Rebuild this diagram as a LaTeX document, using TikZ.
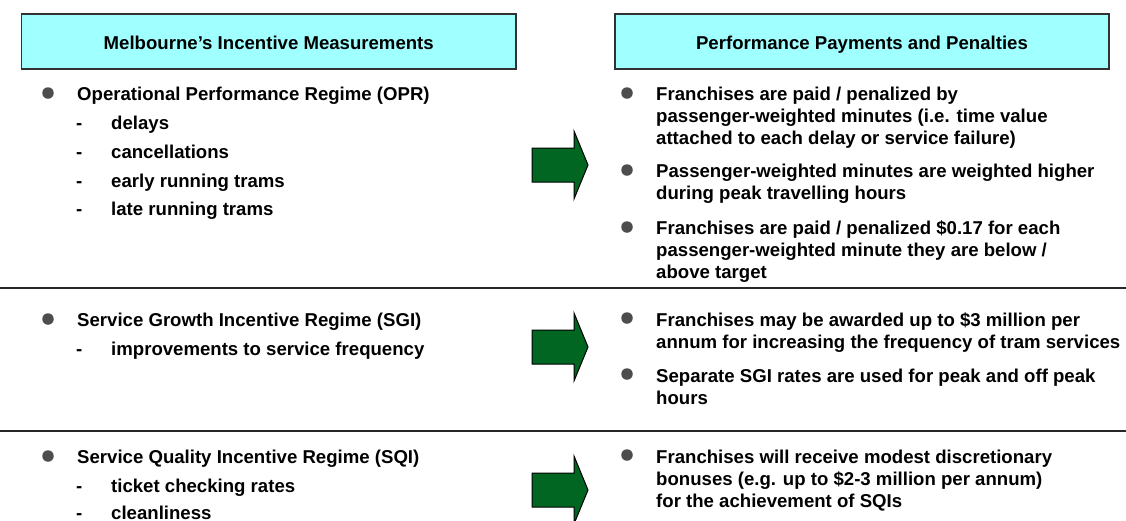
\documentclass[tikz,border=0pt]{standalone}
\usepackage{fontspec}
\setmainfont{Liberation Sans}
\definecolor{hdrfill}{RGB}{160,255,255}
\definecolor{hdrline}{RGB}{50,50,50}
\definecolor{arrgreen}{RGB}{0,102,34}
\definecolor{bulletgray}{RGB}{77,77,77}
\begin{document}
\begin{tikzpicture}[x=1pt,y=-1pt,
  txt/.style={anchor=base west,inner sep=0pt,font=\fontsize{18.6}{22}\selectfont\bfseries},
  hdr/.style={draw=hdrline,line width=1.5pt,fill=hdrfill},
  hdrtxt/.style={anchor=base,inner sep=0pt,font=\fontsize{18.6}{22}\selectfont\bfseries},
  dot/.style={circle,fill=bulletgray,inner sep=0pt,minimum size=11.5pt},
  sep/.style={line width=2pt,draw=black!85},
  bigarrow/.style={fill=arrgreen,draw=black,line width=1pt,line join=miter}]
\useasboundingbox (0,0) rectangle (1126,520);
% headers
\draw[hdr] (21.5,14) rectangle (516,69);
\node[hdrtxt] (h1) at (268.75,49.5) {Melbourne’s Incentive Measurements};
\draw[hdr] (615,14) rectangle (1109,69);
\node[hdrtxt] (h2) at (862,49.5) {Performance Payments and Penalties};
% separators
\coordinate (s1a) at (0,288); \coordinate (s1b) at (1126,288);
\coordinate (s2a) at (0,431); \coordinate (s2b) at (1126,431);
\draw[sep] (s1a) -- (s1b);
\draw[sep] (s2a) -- (s2b);
% arrows
\foreach \c in {165,347,490}{
  \draw[bigarrow] (532,\c-17) -- (574,\c-17) -- (574,\c-34) -- (588,\c) -- (574,\c+34) -- (574,\c+17) -- (532,\c+17) -- cycle;
}
% ---- left column
\node[dot] (lb1) at (48,93) {};
\node[txt] (l1) at (77,100) {Operational Performance Regime (OPR)};
\node[txt] (l1d1) at (76,129) {-}; \node[txt] (l1a) at (111,129) {delays};
\node[txt] (l1d2) at (76,158) {-}; \node[txt] (l1b) at (111,158) {cancellations};
\node[txt] (l1d3) at (76,187) {-}; \node[txt] (l1c) at (111,187) {early running trams};
\node[txt] (l1d4) at (76,215) {-}; \node[txt] (l1e) at (111,215) {late running trams};
\node[dot] (lb2) at (48,319) {};
\node[txt] (l2) at (77,326) {Service Growth Incentive Regime (SGI)};
\node[txt] (l2d1) at (76,355) {-}; \node[txt] (l2a) at (111,355) {improvements to service frequency};
\node[dot] (lb3) at (48,456) {};
\node[txt] (l3) at (77,463) {Service Quality Incentive Regime (SQI)};
\node[txt] (l3d1) at (76,492) {-}; \node[txt] (l3a) at (111,492) {ticket checking rates};
\node[txt] (l3d2) at (76,519) {-}; \node[txt] (l3b) at (111,519) {cleanliness};
% ---- right column
\node[dot] (rb1) at (627,93) {};
\node[txt] (r1a) at (656,100) {Franchises are paid / penalized by};
\node[txt] (r1b) at (656,122) {passenger-weighted minutes (i.e. time value};
\node[txt] (r1c) at (656,144) {attached to each delay or service failure)};
\node[dot] (rb2) at (627,170) {};
\node[txt] (r2a) at (656,177) {Passenger-weighted minutes are weighted higher};
\node[txt] (r2b) at (656,199) {during peak travelling hours};
\node[dot] (rb3) at (627,227) {};
\node[txt] (r3a) at (656,234) {Franchises are paid / penalized \$0.17 for each};
\node[txt] (r3b) at (656,256) {passenger-weighted minute they are below /};
\node[txt] (r3c) at (656,278) {above target};
\node[dot] (rb4) at (627,318) {};
\node[txt] (r4a) at (656,326) {Franchises may be awarded up to \$3 million per};
\node[txt] (r4b) at (656,348) {annum for increasing the frequency of tram services};
\node[dot] (rb5) at (627,374) {};
\node[txt] (r5a) at (656,382) {Separate SGI rates are used for peak and off peak};
\node[txt] (r5b) at (656,404) {hours};
\node[dot] (rb6) at (627,455) {};
\node[txt] (r6a) at (656,463) {Franchises will receive modest discretionary};
\node[txt] (r6b) at (656,485) {bonuses (e.g. up to \$2-3 million per annum)};
\node[txt] (r6c) at (656,507) {for the achievement of SQIs};
\end{tikzpicture}
\end{document}
